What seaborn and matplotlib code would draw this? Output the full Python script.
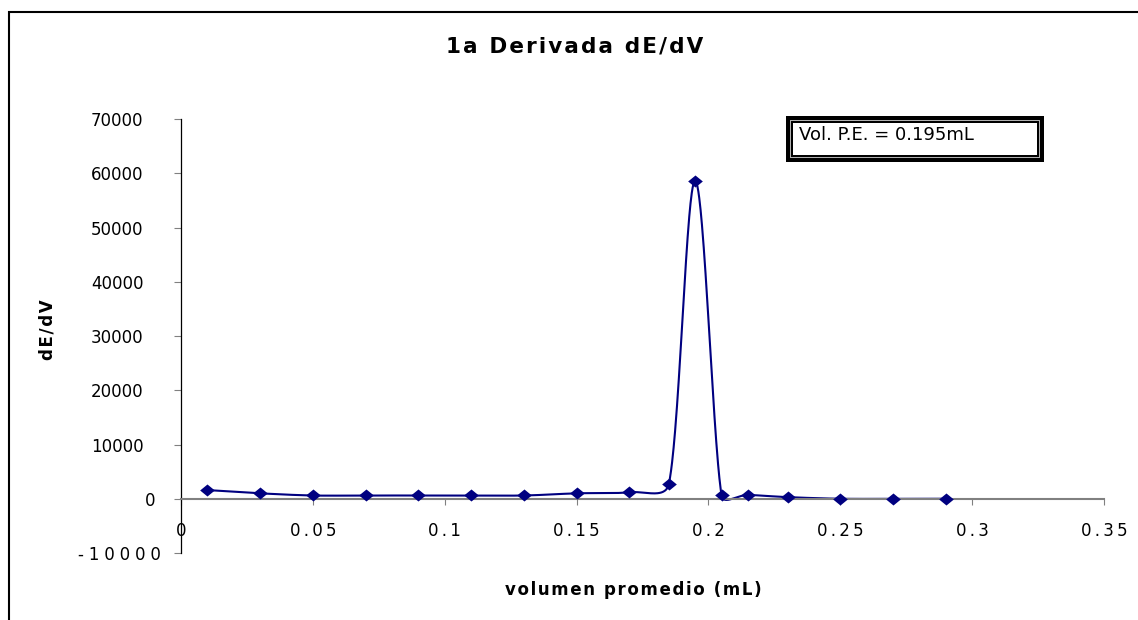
import numpy as np
import pandas as pd
import seaborn as sns
import matplotlib
matplotlib.use("Agg")
import matplotlib.pyplot as plt
from matplotlib.patches import Rectangle

# Average titrant volume (mL) and first derivative dE/dV
volumen = [0.01, 0.03, 0.05, 0.07, 0.09, 0.11, 0.13, 0.15, 0.17,
           0.185, 0.195, 0.205, 0.215, 0.23, 0.25, 0.27, 0.29]
dEdV = [1600, 1000, 600, 600, 600, 600, 600, 1000, 1200,
        2750, 58600, 600, 700, 300, 0, 0, 0]

x_ticks = [0, 0.05, 0.1, 0.15, 0.2, 0.25, 0.3, 0.35]
x_tick_labels = ["0", "0.05", "0.1", "0.15", "0.2", "0.25", "0.3", "0.35"]
y_ticks = [-10000, 0, 10000, 20000, 30000, 40000, 50000, 60000, 70000]
y_tick_labels = ["-10000", "0", "10000", "20000", "30000", "40000",
                 "50000", "60000", "70000"]

titulo = "1a Derivada dE/dV"
etiqueta_x = "volumen promedio (mL)"
etiqueta_y = "dE/dV"
nota = "Vol. P.E. = 0.195mL"

NAVY = "#000080"
HS = "\u200a"

W, H = 1138, 620
left, right, top, bottom = 181, 1104, 119, 553
XLIM = (0, 0.35)
YLIM = (-10000, 70000)


def spaced(s, n=1):
    return (HS * n).join(s)


def smooth_curve(xs, ys, steps=60, clamp=0.4):
    """Catmull-Rom style Bezier smoothing through every point; each control
    arm is limited to a fraction of its own segment's on-screen length."""
    sx = (right - left) / (XLIM[1] - XLIM[0])
    sy = (bottom - top) / (YLIM[1] - YLIM[0])
    p = np.column_stack([np.asarray(xs, float) * sx, np.asarray(ys, float) * sy])
    n = len(p)

    def arm(v, seg):
        L = np.linalg.norm(v)
        lim = clamp * seg
        return v * (lim / L) if L > lim and L > 0 else v

    out = []
    for i in range(n - 1):
        p1, p2 = p[i], p[i + 1]
        seg = np.linalg.norm(p2 - p1)
        p0 = p[i - 1] if i > 0 else p1
        p3 = p[i + 2] if i + 2 < n else p2
        c1 = p1 + arm((p2 - p0) / 6.0, seg)
        c2 = p2 - arm((p3 - p1) / 6.0, seg)
        t = np.linspace(0, 1, steps)[:, None]
        bez = ((1 - t) ** 3) * p1 + 3 * ((1 - t) ** 2) * t * c1 \
            + 3 * (1 - t) * t ** 2 * c2 + t ** 3 * p2
        out.append(bez if i == 0 else bez[1:])
    pts = np.vstack(out)
    return pts[:, 0] / sx, pts[:, 1] / sy


sns.set_theme(style="white")
plt.rcParams["font.family"] = ["DejaVu Sans"]

fig = plt.figure(figsize=(W / 100, H / 100), dpi=100)
fig.patch.set_facecolor("white")

ax = fig.add_axes([left / W, 1 - bottom / H, (right - left) / W, (bottom - top) / H])
ax.set_facecolor("white")

df = pd.DataFrame({"volumen": volumen, "dEdV": dEdV})
cx, cy = smooth_curve(df["volumen"], df["dEdV"])
sns.lineplot(x=cx, y=cy, sort=False, ax=ax, color=NAVY, lw=1.5, estimator=None)
diamond = [(-1, 0), (0, -0.82), (1, 0), (0, 0.82), (-1, 0)]
sns.scatterplot(data=df, x="volumen", y="dEdV", ax=ax, marker=diamond,
                s=112, color=NAVY, edgecolor=NAVY, linewidth=0, zorder=5)

ax.set_xlim(*XLIM)
ax.set_ylim(*YLIM)

ax.spines["top"].set_visible(False)
ax.spines["right"].set_visible(False)
ax.spines["left"].set_color("black")
ax.spines["left"].set_linewidth(0.9)
ax.spines["bottom"].set_position(("data", 0))
ax.spines["bottom"].set_color("#808080")
ax.spines["bottom"].set_linewidth(1.5)

ax.set_xticks(x_ticks)
ax.set_xticklabels([spaced(t, 2) for t in x_tick_labels])
ax.set_yticks(y_ticks)
ax.set_yticklabels([spaced(t, 3) if t.startswith("-") else t for t in y_tick_labels])

ax.tick_params(axis="x", direction="out", length=4.5, width=0.8, color="#808080",
               pad=12, labelsize=12, labelcolor="black", bottom=True)
ax.tick_params(axis="y", direction="out", length=5, width=0.8, color="#808080",
               pad=22, labelsize=12, labelcolor="black", left=True)

# small horizontal shifts for the two lowest labels
for tk, lbl in zip(ax.yaxis.get_major_ticks(), y_tick_labels):
    if lbl == "0":
        tk.label1.set_x(12 / (right - left))
    elif lbl.startswith("-"):
        tk.label1.set_x(17 / (right - left))

ax.set_xlabel(spaced(etiqueta_x), fontsize=12, fontweight="bold", color="black")
ax.xaxis.set_label_coords((633.5 - left) / (right - left), (bottom - 590) / (bottom - top))
ax.xaxis.label.set_va("center")
ax.set_ylabel(spaced(etiqueta_y), fontsize=12, fontweight="bold", color="black")
ax.yaxis.set_label_coords((47.5 - left) / (right - left), (bottom - 330) / (bottom - top))
ax.yaxis.label.set_va("center")

fig.text(575 / W, 1 - 46.5 / H, spaced(titulo), fontsize=15.5, fontweight="bold",
         ha="center", va="center", color="black")


def px_rect(x0, y0, x1, y1, **kw):
    fig.patches.append(Rectangle((x0 / W, 1 - y1 / H), (x1 - x0) / W, (y1 - y0) / H,
                                 transform=fig.transFigure, **kw))


# annotation box with double border
px_rect(786, 116, 1044, 162, facecolor="black", linewidth=0)
px_rect(790, 120, 1040, 158, facecolor="#b0b0b0", linewidth=0)
px_rect(791, 121, 1039, 157, facecolor="black", linewidth=0)
px_rect(793, 123, 1037, 155, facecolor="white", linewidth=0)
fig.text(799 / W, 1 - 135.5 / H, nota, fontsize=13, ha="left", va="center", color="black")

# outer chart frame
px_rect(8.5, 12.5, W + 20, H + 20, facecolor="none", edgecolor="black", linewidth=1.5)

fig.savefig("out.png", dpi=100, facecolor="white")
